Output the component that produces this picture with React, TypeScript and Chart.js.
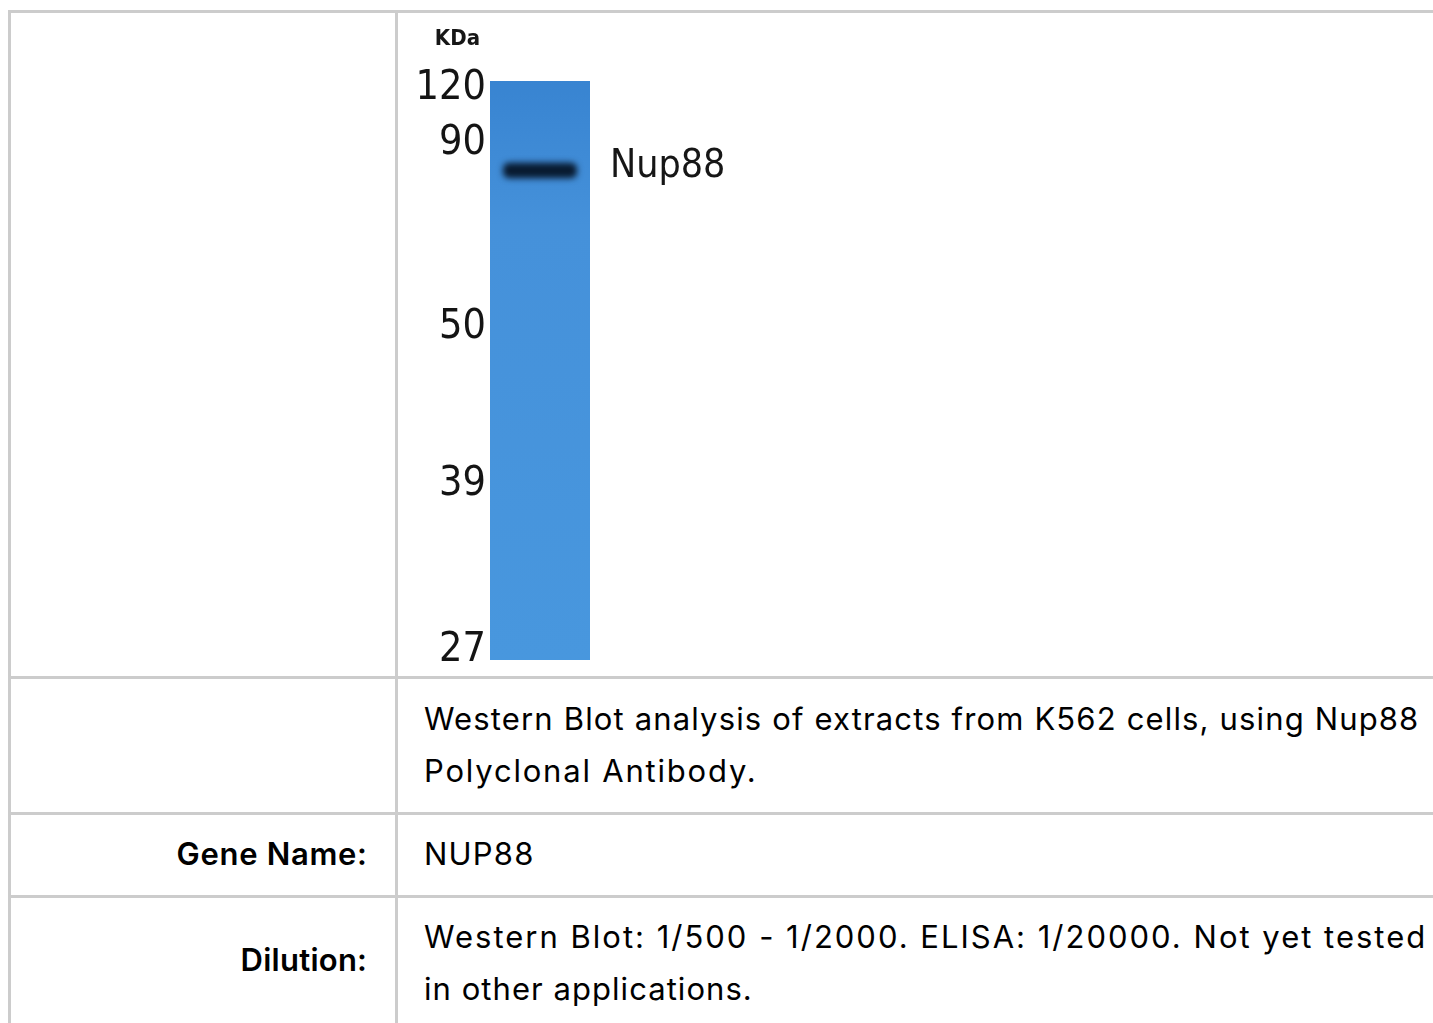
import React, { useEffect, useRef } from "react";
import { Chart, registerables } from "chart.js";

Chart.register(...registerables);

// ---- data ----
const laneLabels = ["K562"];
const markerLabels = ["120", "90", "50", "39", "27"]; // kDa
const markerMobility = [0.012, 0.108, 0.425, 0.696, 0.983]; // relative migration (0 = top of gel)
const laneRange = [0, 1];
const bandName = "Nup88";
const bandRange = [0.141, 0.168];
const unitLabel = "KDa";

const captionLines = [
  "Western Blot analysis of extracts from K562 cells, using Nup88",
  "Polyclonal Antibody.",
];
const geneLabel = "Gene Name:";
const geneValue = "NUP88";
const dilutionLabel = "Dilution:";
const dilutionLines = [
  "Western Blot: 1/500 - 1/2000. ELISA: 1/20000. Not yet tested",
  "in other applications.",
];

const NARROW = '"Liberation Sans Narrow", "DejaVu Sans Condensed", sans-serif';

const bandBlur = {
  id: "bandBlur",
  beforeDatasetDraw(chart: any, args: any) {
    if (chart.data.datasets[args.index].label === bandName) {
      chart.ctx.save();
      chart.ctx.filter = "blur(3.2px)";
    }
  },
  afterDatasetDraw(chart: any, args: any) {
    if (chart.data.datasets[args.index].label === bandName) {
      chart.ctx.restore();
    }
  },
};

const blotLabels = {
  id: "blotLabels",
  afterDraw(chart: any) {
    const { ctx, chartArea, scales } = chart;
    const y = scales.y;
    ctx.save();
    ctx.fillStyle = "#161616";
    ctx.font = `bold 22px ${NARROW}`;
    ctx.textAlign = "right";
    ctx.textBaseline = "alphabetic";
    ctx.fillText(unitLabel, chartArea.left - 10, chartArea.top - 36);
    const mid = y.getPixelForValue((bandRange[0] + bandRange[1]) / 2);
    ctx.font = `39px ${NARROW}`;
    ctx.textAlign = "left";
    ctx.fillText(bandName, chartArea.right + 20, mid + 7);
    ctx.restore();
  },
};

function Blot() {
  const ref = useRef<HTMLCanvasElement>(null);
  useEffect(() => {
    const canvas = ref.current!;
    const chart = new Chart(canvas, {
      type: "bar",
      data: {
        labels: laneLabels,
        datasets: [
          {
            label: bandName,
            data: [bandRange as any],
            backgroundColor: "#081a30",
            barPercentage: 0.74,
            categoryPercentage: 1,
            grouped: false,
            order: 1,
            borderWidth: 0,
            borderRadius: 6,
            borderSkipped: false,
          },
          {
            label: "lane",
            data: [laneRange as any],
            backgroundColor: (c: any) => {
              const area = c.chart.chartArea;
              if (!area) return "#4594dc";
              const g = c.chart.ctx.createLinearGradient(0, area.top, 0, area.bottom);
              g.addColorStop(0, "#3884d1");
              g.addColorStop(0.25, "#4591da");
              g.addColorStop(1, "#4897de");
              return g;
            },
            barPercentage: 1,
            categoryPercentage: 1,
            grouped: false,
            order: 2,
            borderWidth: 0,
          },
        ],
      },
      options: {
        responsive: false,
        animation: false,
        devicePixelRatio: 1,
        layout: { padding: { top: 68, right: 208, bottom: 16, left: 0 } },
        plugins: { legend: { display: false }, tooltip: { enabled: false }, title: { display: false } },
        scales: {
          x: { display: false, grid: { display: false } },
          y: {
            type: "linear",
            reverse: true,
            min: 0,
            max: 1,
            grid: { display: false, drawTicks: false },
            border: { display: false },
            afterFit: (s: any) => {
              s.width = 92;
              s.paddingTop = 0;
              s.paddingBottom = 0;
            },
            afterBuildTicks: (s: any) => {
              s.ticks = markerMobility.map((v) => ({ value: v }));
            },
            ticks: {
              padding: 4,
              color: "#141414",
              font: { family: NARROW, size: 41 },
              callback: (v: any) => {
                const i = markerMobility.indexOf(Number(v));
                return i >= 0 ? markerLabels[i] : "";
              },
            },
          },
        },
      },
      plugins: [bandBlur, blotLabels],
    });
    return () => chart.destroy();
  }, []);
  return (
    <canvas
      ref={ref}
      width={400}
      height={663}
      style={{ position: "absolute", left: 398, top: 13, width: 400, height: 663 }}
    />
  );
}

const LINE = "#cccccc";

export default function App() {
  const text: React.CSSProperties = {
    position: "absolute",
    fontSize: 31,
    lineHeight: "52px",
    whiteSpace: "nowrap",
    color: "#000",
  };
  const label = (ls: number): React.CSSProperties => ({
    ...text,
    left: 11,
    width: 356 + ls,
    textAlign: "right",
    fontWeight: 600,
    letterSpacing: ls,
  });
  const captionLS = [1.15, 1.8];
  const dilutionLS = [2.0, 1.05];
  return (
    <div
      style={{
        position: "fixed",
        left: 0,
        top: 0,
        width: 1433,
        height: 1023,
        overflow: "hidden",
        background: "#fff",
        fontFamily: 'Inter, "Liberation Sans", Arial, sans-serif',
      }}
    >
      {/* grid lines */}
      <div style={{ position: "absolute", left: 8, top: 10, width: 1425, height: 3, background: LINE }} />
      <div style={{ position: "absolute", left: 8, top: 676, width: 1425, height: 3, background: LINE }} />
      <div style={{ position: "absolute", left: 8, top: 812, width: 1425, height: 3, background: LINE }} />
      <div style={{ position: "absolute", left: 8, top: 895, width: 1425, height: 3, background: LINE }} />
      <div style={{ position: "absolute", left: 8, top: 10, width: 3, height: 1013, background: LINE }} />
      <div style={{ position: "absolute", left: 395, top: 10, width: 3, height: 1013, background: LINE }} />

      <Blot />

      <div style={{ ...text, left: 424, top: 693 }}>
        {captionLines.map((l, i) => (
          <div key={i} style={{ letterSpacing: captionLS[i] }}>
            {l}
          </div>
        ))}
      </div>

      <div style={{ ...label(0.7), top: 828 }}>{geneLabel}</div>
      <div style={{ ...text, left: 424, top: 828, letterSpacing: 1.2 }}>{geneValue}</div>

      <div style={{ ...label(0.25), top: 934 }}>{dilutionLabel}</div>
      <div style={{ ...text, left: 424, top: 911 }}>
        {dilutionLines.map((l, i) => (
          <div key={i} style={{ letterSpacing: dilutionLS[i] }}>
            {l}
          </div>
        ))}
      </div>
    </div>
  );
}
